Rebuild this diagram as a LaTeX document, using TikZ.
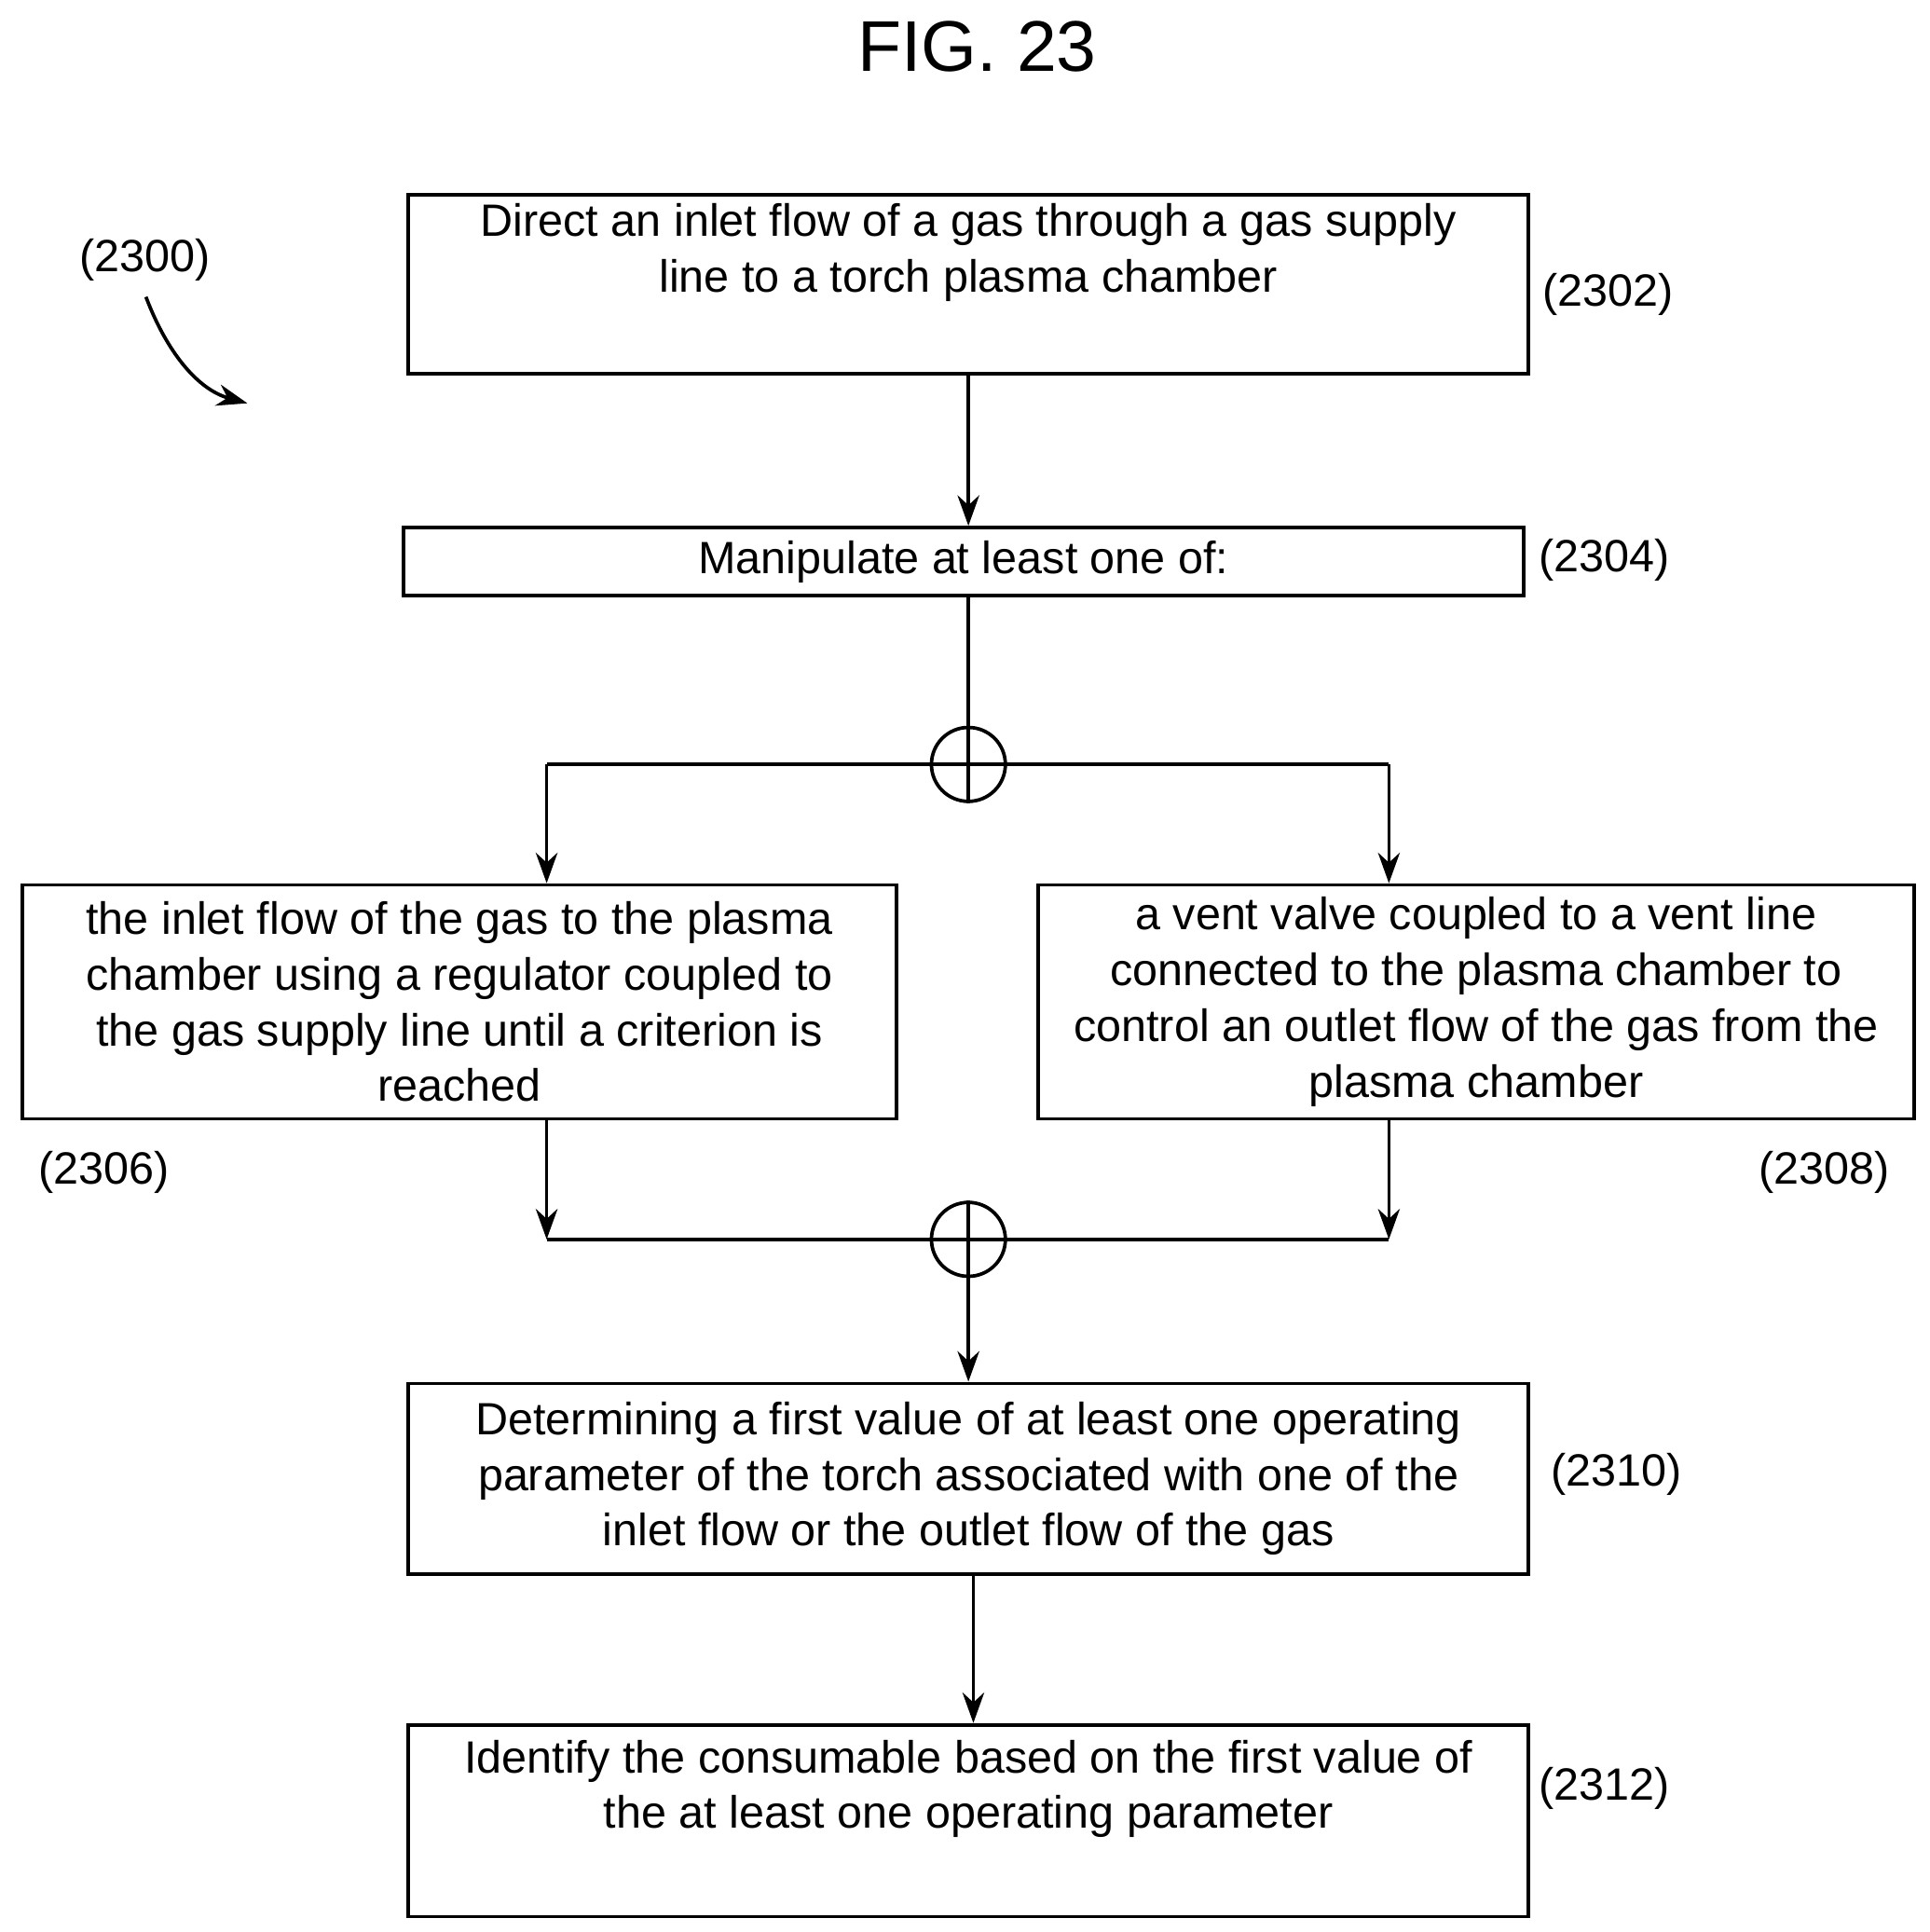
\documentclass[tikz,border=0pt]{standalone}
\usepackage{fontspec}
\setmainfont{Liberation Sans}
\usetikzlibrary{arrows.meta}

\tikzstyle{stepbox} = [draw=black,line width=0.8pt,rectangle,align=center,inner sep=2pt,font=\fontsize{10.4pt}{12.8pt}\selectfont]
\tikzstyle{junction} = [draw=black,line width=0.8pt,circle,inner sep=0pt,minimum size=17pt]
\tikzstyle{flow} = [draw=black,line width=0.8pt,-{Stealth[length=7pt,width=5pt]}]
\tikzstyle{line} = [draw=black,line width=0.8pt]
\tikzstyle{ref} = [font=\fontsize{10.4pt}{12pt}\selectfont]

\begin{document}
\begin{tikzpicture}[x=0.01cm,y=-0.01cm]
    \useasboundingbox (0,0) rectangle (1560,1562);

    \coordinate (S1) at (783, 230);
    \coordinate (S2) at (779, 454);
    \coordinate (SL) at (371.5, 810);
    \coordinate (SR) at (1193.5, 810);
    \coordinate (S3) at (783, 1195.5);
    \coordinate (S4) at (783, 1472);
    \coordinate (J1) at (783, 618);
    \coordinate (J2) at (783, 1002);

    \node at (790, 38) {\fontsize{16.5pt}{20pt}\selectfont FIG. 23};

    \node [style=stepbox,minimum width=9.05cm,minimum height=1.39cm] (S1) at (S1)
        {Direct an inlet flow of a gas through a gas supply\\line to a torch plasma chamber\\[4pt]};
    \node [style=stepbox,minimum width=9.05cm,minimum height=0.55cm] (S2) at (S2)
        {Manipulate at least one of:};
    \node [style=stepbox,minimum width=7.06cm,minimum height=1.89cm] (SL) at (SL)
        {the inlet flow of the gas to the plasma\\chamber using a regulator coupled to\\the gas supply line until a criterion is\\reached};
    \node [style=stepbox,minimum width=7.08cm,minimum height=1.89cm] (SR) at (SR)
        {a vent valve coupled to a vent line\\connected to the plasma chamber to\\control an outlet flow of the gas from the\\plasma chamber};
    \node [style=stepbox,minimum width=9.05cm,minimum height=1.54cm] (S3) at (S3)
        {Determining a first value of at least one operating\\parameter of the torch associated with one of the\\inlet flow or the outlet flow of the gas};
    \node [style=stepbox,minimum width=9.05cm,minimum height=1.55cm] (S4) at (S4)
        {Identify the consumable based on the first value of\\the at least one operating parameter\\[4pt]};

    \node [style=junction] (J1) at (J1) {};
    \node [style=junction] (J2) at (J2) {};
    \draw [style=line] (J1.north) -- (J1.south) (J1.west) -- (J1.east);
    \draw [style=line] (J2.north) -- (J2.south) (J2.west) -- (J2.east);

    \coordinate (L1) at (442, 618);
    \coordinate (R1) at (1123, 618);
    \coordinate (L2) at (442, 1002);
    \coordinate (R2) at (1123, 1002);
    \coordinate (M1) at (783, 301);
    \coordinate (M3) at (787, 1274);
    \coordinate (M4) at (787, 1393);

    \draw [style=flow] (M1) -- (M1 |- S2.north);
    \draw [style=line] (M1 |- S2.south) -- (J1);
    \draw [style=line] (J1) -- (L1);
    \draw [style=line] (J1) -- (R1);
    \draw [style=flow] (L1) -- (L1 |- SL.north);
    \draw [style=flow] (R1) -- (R1 |- SR.north);
    \draw [style=flow] (L2 |- SL.south) -- (L2);
    \draw [style=flow] (R2 |- SR.south) -- (R2);
    \draw [style=line] (L2) -- (J2);
    \draw [style=line] (R2) -- (J2);
    \draw [style=flow] (J2) -- (S3);
    \draw [style=flow] (M3) -- (M4);

    \node [style=ref] (R2300) at (117, 210) {(2300)};
    \coordinate (A2300) at (200, 326);
    \draw [style=flow] (118, 240) .. controls (135, 285) and (160, 315) .. (A2300);
    \node [style=ref] at (1300, 238) {(2302)};
    \node [style=ref] at (1297, 453) {(2304)};
    \node [style=ref] at (84, 948) {(2306)};
    \node [style=ref] at (1475, 948) {(2308)};
    \node [style=ref] at (1307, 1192) {(2310)};
    \node [style=ref] at (1297, 1446) {(2312)};
\end{tikzpicture}
\end{document}
